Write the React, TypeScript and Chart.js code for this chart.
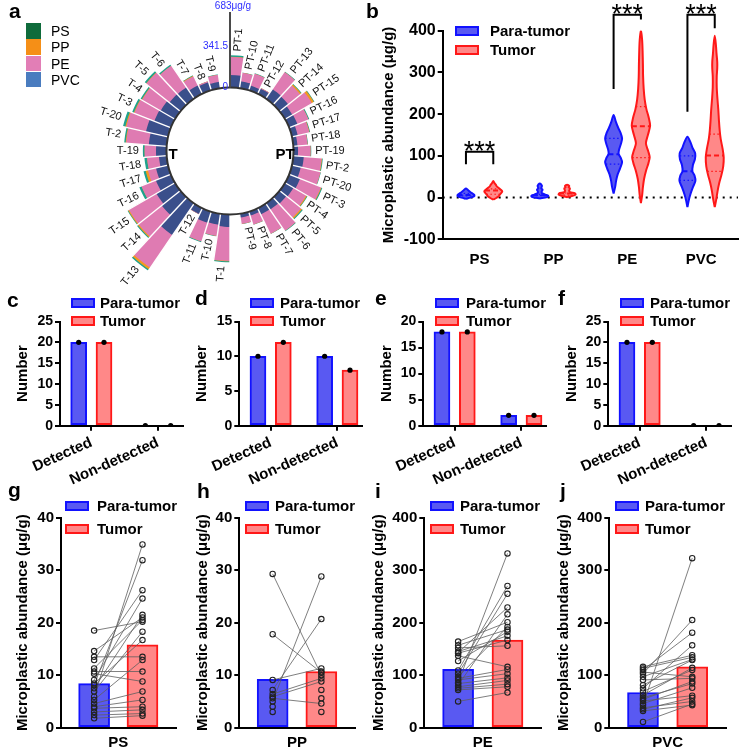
import React, { useEffect, useRef } from 'react';
import { Chart, registerables } from 'chart.js';

Chart.register(...registerables);

const FONT = '"Liberation Sans", Arial, Helvetica, sans-serif';

const PARA_FILL = '#5959f2';
const PARA_STROKE = '#1212ff';
const TUMOR_FILL = '#ff8888';
const TUMOR_STROKE = '#ff1818';

const PVC_BAR = '#3a4f8b';
const PE_BAR = '#df7bb2';
const PP_BAR = '#f39a1f';
const PS_BAR = '#1ea28d';
const KEY_COLORS = ['#0f6b3b', '#f58f17', '#e27eb6', '#4a7cbf'];

// ---------------- Panel a data ----------------
const ptLabels = ['PT-1', 'PT-10', 'PT-11', 'PT-12', 'PT-13', 'PT-14', 'PT-15', 'PT-16', 'PT-17', 'PT-18', 'PT-19', 'PT-2', 'PT-20', 'PT-3', 'PT-4', 'PT-5', 'PT-6', 'PT-7', 'PT-8', 'PT-9'];
const tLabels = ['T-1', 'T-10', 'T-11', 'T-12', 'T-13', 'T-14', 'T-15', 'T-16', 'T-17', 'T-18', 'T-19', 'T-2', 'T-20', 'T-3', 'T-4', 'T-5', 'T-6', 'T-7', 'T-8', 'T-9'];
const ptPVC = [105, 59, 42, 50, 97, 93, 72, 76, 50, 35, 38, 88, 76, 99, 82, 73, 64, 59, 34, 32];
const ptPE = [150, 72, 105, 5, 175, 130, 190, 100, 100, 85, 105, 150, 170, 190, 125, 160, 215, 180, 80, 55];
const ptPP = [3, 0, 0, 0, 0, 12, 20, 0, 3, 0, 0, 4, 0, 5, 8, 12, 0, 0, 0, 0];
const ptPS = [12, 3, 5, 0, 5, 5, 5, 8, 5, 4, 6, 6, 4, 8, 5, 8, 6, 3, 3, 2];
const tPVC = [104, 93, 97, 55, 322, 200, 180, 136, 104, 65, 88, 150, 190, 150, 140, 118, 115, 80, 70, 55];
const tPE = [285, 95, 165, 3, 331, 250, 268, 130, 70, 100, 95, 190, 170, 180, 180, 250, 220, 85, 10, 60];
const tPP = [3, 0, 0, 0, 18, 10, 8, 0, 20, 0, 0, 5, 8, 5, 4, 3, 0, 5, 0, 0];
const tPS = [8, 3, 8, 0, 12, 8, 6, 20, 18, 22, 15, 12, 20, 15, 12, 15, 12, 5, 0, 3];
const circleAxisTicks = [0, 341.5, 683];
const polymerNames = ['PS', 'PP', 'PE', 'PVC'];

// ---------------- Panel b data ----------------
const violinCategories = ['PS', 'PP', 'PE', 'PVC'];
const psParaLevels = [-3, 0, 3, 6, 9, 12, 15, 18, 22];
const psParaDensity = [0, 0.45, 0.8, 0.85, 0.7, 0.5, 0.35, 0.2, 0];
const psTumorLevels = [-5, -1, 3, 7, 11, 15, 19, 23, 27, 31, 35, 40];
const psTumorDensity = [0, 0.3, 0.55, 0.65, 0.8, 0.9, 0.75, 0.55, 0.35, 0.25, 0.12, 0];
const ppParaLevels = [-2, 1, 4, 7, 10, 13, 16, 19, 22, 25, 28, 31, 34];
const ppParaDensity = [0, 0.75, 0.85, 0.55, 0.25, 0.18, 0.22, 0.28, 0.15, 0.18, 0.22, 0.15, 0];
const ppTumorLevels = [1, 4, 7, 10, 13, 16, 19, 22, 25, 28, 31];
const ppTumorDensity = [0, 0.55, 0.85, 0.8, 0.3, 0.2, 0.25, 0.28, 0.15, 0.22, 0];
const peParaLevels = [10, 25, 40, 55, 70, 85, 95, 105, 115, 130, 142, 155, 168, 182, 198];
const peParaDensity = [0, 0.15, 0.25, 0.4, 0.65, 0.85, 0.72, 0.5, 0.55, 0.75, 0.85, 0.7, 0.45, 0.22, 0];
const peTumorLevels = [-13, 5, 25, 45, 65, 82, 97, 112, 130, 150, 172, 192, 212, 235, 260, 290, 320, 350, 378, 402];
const peTumorDensity = [0, 0.12, 0.2, 0.32, 0.52, 0.75, 0.88, 0.72, 0.5, 0.7, 0.92, 0.78, 0.55, 0.38, 0.28, 0.22, 0.2, 0.17, 0.12, 0];
const pvcParaLevels = [-23, -8, 8, 25, 40, 52, 63, 78, 92, 106, 120, 133, 146];
const pvcParaDensity = [0, 0.12, 0.3, 0.55, 0.8, 0.72, 0.5, 0.55, 0.75, 0.78, 0.5, 0.3, 0];
const pvcTumorLevels = [-23, -5, 15, 35, 55, 75, 96, 118, 140, 160, 185, 210, 240, 265, 290, 310, 325, 345, 365, 388];
const pvcTumorDensity = [0, 0.15, 0.28, 0.45, 0.68, 0.85, 0.9, 0.78, 0.6, 0.5, 0.42, 0.36, 0.26, 0.2, 0.2, 0.25, 0.25, 0.18, 0.12, 0];
const paraMedians = [6, 5.6, 104, 63];
const paraQ1 = [4, 4.5, 80, 41];
const paraQ3 = [10, 7.5, 142, 100];
const tumorMedians = [17, 9.7, 171, 101];
const tumorQ1 = [8, 6, 96, 63];
const tumorQ3 = [21, 11, 218, 152];
const sigCategoryIndex = [0, 2, 3];
const sigBarTop = [110, 438, 438];
const sigParaEnd = [80, 260, 206];
const sigTumorEnd = [80, 427, 406];
const sigText = ['***', '***', '***'];

// ---------------- Panels c-f data ----------------
const detectionCategories = ['Detected', 'Non-detected'];
const psDetectPara = [20, 0];
const psDetectTumor = [20, 0];
const ppDetectPara = [10, 10];
const ppDetectTumor = [12, 8];
const peDetectPara = [18, 2];
const peDetectTumor = [18, 2];
const pvcDetectPara = [20, 0];
const pvcDetectTumor = [20, 0];

// ---------------- Panels g-j data ----------------
const psAbundPara = [18.5, 14.6, 13.5, 12.9, 11.3, 10.7, 10.3, 9.1, 8.4, 8.1, 7.5, 6.9, 5.9, 5.3, 4.6, 4.0, 3.7, 3.0, 2.4, 1.8];
const psAbundTumor = [20.2, 21.0, 13.5, 26.2, 20.5, 10.7, 8.8, 24.6, 16.7, 31.9, 21.5, 18.3, 34.9, 12.9, 6.9, 5.3, 4.0, 3.4, 2.7, 2.3];
const psAbundMean = [8.4, 15.8];
const ppAbundPara = [29.3, 17.8, 9.1, 7.2, 6.4, 5.9, 5.6, 5.0, 4.0, 3.0, null, null, null, null];
const ppAbundTumor = [10.0, 10.5, 11.3, 20.7, 9.4, 8.8, 4.6, 28.8, null, null, 10.7, 7.2, 5.6, 3.0];
const ppAbundMean = [9.2, 10.7];
const peAbundPara = [164, 157, 152, 145, 143, 142, 137, 127, 109, 103, 97, 94, 91, 86, 84, 81, 78, 75, 72, 50];
const peAbundTumor = [201, 187, 156, 175, 229, 167, 116, 183, 270, 255, 192, 111, 103, 332, 95, 216, 90, 83, 78, 67];
const peAbundMean = [111, 167];
const pvcAbundPara = [116, 113, 110, 106, 103, 97, 91, 81, 75, 69, 62, 57, 54, 51, 46, 43, 38, 35, 32, 11];
const pvcAbundTumor = [138, 134, 181, 97, 205, 130, 94, 129, 157, 110, 114, 84, 88, 61, 76, 323, 50, 57, 43, 45];
const pvcAbundMean = [67, 116];

// ---------------- helpers ----------------
const VIOLIN_OFFSET = 0.185;
const VIOLIN_HALF = 0.135;
const COUNT_OFFSET = 0.19;
const PAIR_OFFSET = 0.211;
const INNER_FRACTION = 0.438;

function widthAt(levels: number[], dens: number[], v: number) {
  for (let i = 0; i < levels.length - 1; i++) {
    if (v >= levels[i] && v <= levels[i + 1]) {
      const t = (v - levels[i]) / (levels[i + 1] - levels[i]);
      return dens[i] + t * (dens[i + 1] - dens[i]);
    }
  }
  return 0;
}

function violinOutline(cx: number, levels: number[], dens: number[], half: number) {
  const right = levels.map((v, i) => ({ x: cx + dens[i] * half, y: v }));
  const left = levels.map((v, i) => ({ x: cx - dens[i] * half, y: v })).reverse();
  return right.concat(left.slice(1));
}

function yAxis(o: { min: number; max: number; step: number; width: number; title: string; titlePad: number; tickSize: number; titleSize?: number; tickLen?: number }) {
  return {
    type: 'linear',
    position: 'left',
    min: o.min,
    max: o.max,
    offset: false,
    ticks: { stepSize: o.step, color: '#000', padding: 2, font: { family: FONT, size: o.tickSize, weight: 'bold' } },
    grid: { display: true, offset: false, drawOnChartArea: false, drawTicks: true, tickLength: o.tickLen ?? 5, color: '#000', lineWidth: 2 },
    border: { display: true, color: '#000', width: 2 },
    title: {
      display: true,
      text: o.title,
      color: '#000',
      padding: { top: o.titlePad, bottom: 0 },
      font: { family: FONT, size: o.titleSize ?? 15, weight: 'bold' },
    },
    afterFit: (s: any) => {
      s.width = o.width;
      s.paddingTop = 0;
      s.paddingBottom = 0;
    },
  };
}

function xAxis(o: { min: number; max: number; ticks: number[]; labels: string[]; height: number; size: number; rotation?: number; drawTicks?: boolean; padding: number }) {
  return {
    type: 'linear',
    position: 'bottom',
    min: o.min,
    max: o.max,
    offset: false,
    afterBuildTicks: (s: any) => {
      s.ticks = o.ticks.map((v) => ({ value: v }));
    },
    ticks: {
      autoSkip: false,
      maxRotation: o.rotation ?? 0,
      minRotation: o.rotation ?? 0,
      padding: o.padding,
      color: '#000',
      font: { family: FONT, size: o.size, weight: 'bold' },
      callback: (_v: any, i: number) => o.labels[i],
    },
    grid: { display: true, offset: false, drawOnChartArea: false, drawTicks: !!o.drawTicks, tickLength: 5, color: '#000', lineWidth: 2 },
    border: { display: true, color: '#000', width: 2 },
    afterFit: (s: any) => {
      s.height = o.height;
      s.paddingLeft = 0;
      s.paddingRight = 0;
    },
  };
}

function baseOptions(padding: any, scales: any) {
  return {
    responsive: false,
    maintainAspectRatio: false,
    animation: false,
    events: [],
    layout: { padding, autoPadding: false },
    plugins: { legend: { display: false }, tooltip: { enabled: false }, title: { display: false } },
    scales,
  };
}

// ---------------- plugins ----------------
const circlePlugin = {
  id: 'circleDecor',
  afterDatasetsDraw(chart: any) {
    const sc = chart.scales.r;
    const ctx = chart.ctx;
    const cx = sc.xCenter;
    const cy = sc.yCenter;
    const r0 = sc.getDistanceFromCenterForValue(0);
    const top = circleAxisTicks[circleAxisTicks.length - 1];
    const rMax = sc.getDistanceFromCenterForValue(top);
    const outerMeta = chart.getDatasetMeta(chart.data.datasets.length - 1);
    const labels = chart.data.labels;
    ctx.save();
    ctx.strokeStyle = '#ffffff';
    ctx.lineWidth = 1.4;
    outerMeta.data.forEach((arc: any) => {
      const a = arc.startAngle;
      ctx.beginPath();
      ctx.moveTo(cx + Math.cos(a) * (r0 - 1), cy + Math.sin(a) * (r0 - 1));
      ctx.lineTo(cx + Math.cos(a) * (rMax + 3), cy + Math.sin(a) * (rMax + 3));
      ctx.stroke();
    });
    ctx.beginPath();
    ctx.arc(cx, cy, r0, 0, Math.PI * 2);
    ctx.fillStyle = '#ffffff';
    ctx.fill();
    ctx.lineWidth = 2;
    ctx.strokeStyle = '#333333';
    ctx.stroke();

    ctx.font = `11px ${FONT}`;
    ctx.fillStyle = '#111111';
    ctx.textBaseline = 'middle';
    outerMeta.data.forEach((arc: any, i: number) => {
      const lab = labels[i];
      if (!lab) return;
      const mid = (arc.startAngle + arc.endAngle) / 2;
      const rr = arc.outerRadius + 4;
      const theta = mid + Math.PI / 2;
      ctx.save();
      ctx.translate(cx, cy);
      if (theta <= Math.PI) {
        ctx.rotate(mid);
        ctx.textAlign = 'left';
        ctx.fillText(lab, rr, 0);
      } else {
        ctx.rotate(mid + Math.PI);
        ctx.textAlign = 'right';
        ctx.fillText(lab, -rr, 0);
      }
      ctx.restore();
    });

    ctx.font = `bold 15px ${FONT}`;
    ctx.fillStyle = '#000';
    ctx.textAlign = 'center';
    ctx.fillText('T', cx - 57, cy + 4);
    ctx.fillText('PT', cx + 55, cy + 4);

    ctx.strokeStyle = '#4a4a4a';
    ctx.lineWidth = 2;
    ctx.beginPath();
    ctx.moveTo(cx, cy - r0);
    ctx.lineTo(cx, cy - rMax + 6);
    ctx.stroke();
    ctx.fillStyle = '#2f2fff';
    ctx.font = `10px ${FONT}`;
    circleAxisTicks.forEach((v, k) => {
      const y = cy - sc.getDistanceFromCenterForValue(v);
      if (k === circleAxisTicks.length - 1) {
        ctx.textAlign = 'center';
        ctx.fillText(`${v}μg/g`, cx + 3, y);
      } else {
        ctx.textAlign = 'right';
        ctx.fillText(String(v), cx - 2, y);
      }
    });
    ctx.restore();
  },
};

const violinFillPlugin = {
  id: 'violinFill',
  beforeDatasetDraw(chart: any, args: any) {
    const ds = chart.data.datasets[args.index];
    if (!ds || !ds.violinFill) return;
    const meta = args.meta;
    const line = meta.dataset;
    const ctx = chart.ctx;
    ctx.save();
    ctx.beginPath();
    let done = false;
    if (line && typeof line.path === 'function') {
      try {
        if (typeof line.updateControlPoints === 'function') line.updateControlPoints(chart.chartArea, 'x');
        line.path(ctx);
        done = true;
      } catch (e) {
        done = false;
      }
    }
    if (!done) {
      ctx.beginPath();
      meta.data.forEach((p: any, i: number) => (i ? ctx.lineTo(p.x, p.y) : ctx.moveTo(p.x, p.y)));
    }
    ctx.closePath();
    ctx.fillStyle = ds.violinFill;
    ctx.fill();
    ctx.restore();
  },
};

const starsPlugin = {
  id: 'sigStars',
  afterDatasetsDraw(chart: any) {
    const ctx = chart.ctx;
    const xs = chart.scales.x;
    const ys = chart.scales.y;
    ctx.save();
    ctx.font = `27px ${FONT}`;
    ctx.fillStyle = '#000';
    ctx.textAlign = 'center';
    ctx.textBaseline = 'alphabetic';
    sigCategoryIndex.forEach((c, k) => {
      ctx.fillText(sigText[k], xs.getPixelForValue(c + 0.5), ys.getPixelForValue(sigBarTop[k]) + 8);
    });
    ctx.restore();
  },
};

// ---------------- chart makers ----------------
function makePanelA() {
  const labels = [...ptLabels, '', ...tLabels, ''];
  const pvc = [...ptPVC, 0, ...tPVC, 0];
  const pe = [...ptPE, 0, ...tPE, 0];
  const pp = [...ptPP, 0, ...tPP, 0];
  const ps = [...ptPS, 0, ...tPS, 0];
  const layer2 = pvc.map((v, i) => v + pe[i]);
  const layer3 = layer2.map((v, i) => v + pp[i]);
  const layer4 = layer3.map((v, i) => v + ps[i]);
  const colors = (c: string) => labels.map((l) => (l ? c : 'rgba(0,0,0,0)'));
  const max = circleAxisTicks[circleAxisTicks.length - 1];
  const min = (-INNER_FRACTION * max) / (1 - INNER_FRACTION);
  return {
    type: 'polarArea',
    data: {
      labels,
      datasets: [
        { label: polymerNames[3], data: pvc, backgroundColor: colors(PVC_BAR), borderWidth: 0 },
        { label: polymerNames[2], data: layer2, backgroundColor: colors(PE_BAR), borderWidth: 0 },
        { label: polymerNames[1], data: layer3, backgroundColor: colors(PP_BAR), borderWidth: 0 },
        { label: polymerNames[0], data: layer4, backgroundColor: colors(PS_BAR), borderWidth: 0 },
      ],
    },
    options: {
      responsive: false,
      animation: false,
      events: [],
      layout: { padding: { left: 85, right: 65, top: 6, bottom: 14 } },
      scales: { r: { min, max, display: false } },
      plugins: { legend: { display: false }, tooltip: { enabled: false } },
    },
    plugins: [circlePlugin],
  };
}

function makePanelB() {
  const n = violinCategories.length;
  const datasets: any[] = [];
  datasets.push({ type: 'line', data: [{ x: 0, y: 0 }, { x: n, y: 0 }], borderColor: '#000', borderWidth: 2, borderDash: [2, 5], pointRadius: 0, order: 10 });
  const groups = [
    { side: -1, stroke: PARA_STROKE, fill: PARA_FILL, levels: [psParaLevels, ppParaLevels, peParaLevels, pvcParaLevels], dens: [psParaDensity, ppParaDensity, peParaDensity, pvcParaDensity], med: paraMedians, q1: paraQ1, q3: paraQ3 },
    { side: 1, stroke: TUMOR_STROKE, fill: TUMOR_FILL, levels: [psTumorLevels, ppTumorLevels, peTumorLevels, pvcTumorLevels], dens: [psTumorDensity, ppTumorDensity, peTumorDensity, pvcTumorDensity], med: tumorMedians, q1: tumorQ1, q3: tumorQ3 },
  ];
  groups.forEach((g) => {
    for (let c = 0; c < n; c++) {
      const cx = c + 0.5 + g.side * VIOLIN_OFFSET;
      datasets.push({
        type: 'line',
        data: violinOutline(cx, g.levels[c], g.dens[c], VIOLIN_HALF),
        borderColor: g.stroke,
        borderWidth: 2,
        pointRadius: 0,
        tension: 0.3,
        fill: false,
        violinFill: g.fill,
        order: 5,
      });
      const stats = [
        { v: g.q1[c], dash: [1.5, 2.5], w: 1.2 },
        { v: g.med[c], dash: [5, 3], w: 2 },
        { v: g.q3[c], dash: [1.5, 2.5], w: 1.2 },
      ];
      stats.forEach((s) => {
        const hw = widthAt(g.levels[c], g.dens[c], s.v) * VIOLIN_HALF;
        datasets.push({ type: 'line', data: [{ x: cx - hw, y: s.v }, { x: cx + hw, y: s.v }], borderColor: g.stroke, borderWidth: s.w, borderDash: s.dash, pointRadius: 0, order: 4 });
      });
    }
  });
  sigCategoryIndex.forEach((c, k) => {
    const xa = c + 0.5 - VIOLIN_OFFSET;
    const xb = c + 0.5 + VIOLIN_OFFSET;
    datasets.push({
      type: 'line',
      data: [{ x: xa, y: sigParaEnd[k] }, { x: xa, y: sigBarTop[k] }, { x: xb, y: sigBarTop[k] }, { x: xb, y: sigTumorEnd[k] }],
      borderColor: '#000',
      borderWidth: 2,
      pointRadius: 0,
      clip: false,
      order: 1,
    });
  });
  return {
    type: 'scatter',
    data: { datasets },
    options: baseOptions(
      { left: 0, right: 2, top: 30.7, bottom: 0 },
      {
        x: xAxis({ min: 0, max: n, ticks: violinCategories.map((_, i) => i + 0.5), labels: violinCategories, height: 42.7, size: 15, padding: 12 }),
        y: yAxis({ min: -100, max: 400, step: 100, width: 72.7, title: 'Microplastic abundance (μg/g)', titlePad: 10, tickSize: 16 }),
      }
    ),
    plugins: [violinFillPlugin, starsPlugin],
  };
}

function makeCount(para: number[], tumor: number[], yMax: number, yWidth: number, titlePad: number, padRight: number) {
  return () => {
    const barBase = { type: 'bar', borderWidth: 2, borderSkipped: false, grouped: false, barThickness: 16, maxBarThickness: 16, categoryPercentage: 1, barPercentage: 2, order: 2 };
    const dots = [
      ...para.map((v, i) => ({ x: i + 0.5 - COUNT_OFFSET, y: v })),
      ...tumor.map((v, i) => ({ x: i + 0.5 + COUNT_OFFSET, y: v })),
    ];
    return {
      type: 'scatter',
      data: {
        datasets: [
          { ...barBase, data: para.map((v, i) => ({ x: i + 0.5 - COUNT_OFFSET, y: v })), backgroundColor: PARA_FILL, borderColor: PARA_STROKE },
          { ...barBase, data: tumor.map((v, i) => ({ x: i + 0.5 + COUNT_OFFSET, y: v })), backgroundColor: TUMOR_FILL, borderColor: TUMOR_STROKE },
          { type: 'scatter', data: dots, pointRadius: 2.6, pointBackgroundColor: '#000', pointBorderColor: '#000', pointBorderWidth: 0, order: 1 },
        ],
      },
      options: baseOptions(
        { left: 0, right: padRight, top: 31.5, bottom: 0 },
        {
          x: xAxis({ min: 0.03, max: 1.87, ticks: [0.5, 1.5], labels: detectionCategories, height: 64.3, size: 15, rotation: 24, drawTicks: true, padding: 3 }),
          y: yAxis({ min: 0, max: yMax, step: 5, width: yWidth, title: 'Number', titlePad, tickSize: 14 }),
        }
      ),
    };
  };
}

function makeAbundance(o: { para: (number | null)[]; tumor: (number | null)[]; means: number[]; label: string; max: number; step: number; yWidth: number; titlePad: number; padRight: number; tickSize: number }) {
  return () => {
    const xa = 0.5 - PAIR_OFFSET;
    const xb = 0.5 + PAIR_OFFSET;
    const barBase = { type: 'bar', borderWidth: 2, borderSkipped: false, grouped: false, barThickness: 31, maxBarThickness: 31, categoryPercentage: 1, barPercentage: 2, order: 3 };
    const datasets: any[] = [
      { ...barBase, data: [{ x: xa, y: o.means[0] }], backgroundColor: PARA_FILL, borderColor: PARA_STROKE },
      { ...barBase, data: [{ x: xb, y: o.means[1] }], backgroundColor: TUMOR_FILL, borderColor: TUMOR_STROKE },
    ];
    o.para.forEach((p, i) => {
      const t = o.tumor[i];
      if (p != null && t != null) {
        datasets.push({ type: 'line', data: [{ x: xa, y: p }, { x: xb, y: t }], borderColor: '#5e5e5e', borderWidth: 0.8, pointRadius: 0, order: 2 });
      }
    });
    const pointStyle = { type: 'scatter', pointRadius: 2.7, pointBorderWidth: 1.1, pointBorderColor: '#222', pointBackgroundColor: 'rgba(0,0,0,0)', order: 1 };
    datasets.push({ ...pointStyle, data: o.para.filter((v) => v != null).map((v) => ({ x: xa, y: v })) });
    datasets.push({ ...pointStyle, data: o.tumor.filter((v) => v != null).map((v) => ({ x: xb, y: v })) });
    return {
      type: 'scatter',
      data: { datasets },
      options: baseOptions(
        { left: 0, right: o.padRight, top: 27.7, bottom: 0 },
        {
          x: xAxis({ min: 0, max: 1, ticks: [0.5], labels: [o.label], height: 23.3, size: 15, padding: 6 }),
          y: yAxis({ min: 0, max: o.max, step: o.step, width: o.yWidth, title: 'Microplastic abundance (μg/g)', titlePad: o.titlePad, tickSize: o.tickSize }),
        }
      ),
    };
  };
}

const panelA = makePanelA;
const panelB = makePanelB;
const panelC = makeCount(psDetectPara, psDetectTumor, 25, 60, 14, 2.3);
const panelD = makeCount(ppDetectPara, ppDetectTumor, 15, 54.3, 8, 6);
const panelE = makeCount(peDetectPara, peDetectTumor, 20, 55.3, 10, 6);
const panelF = makeCount(pvcDetectPara, pvcDetectTumor, 25, 56.3, 11, 9);
const panelG = makeAbundance({ para: psAbundPara, tumor: psAbundTumor, means: psAbundMean, label: 'PS', max: 40, step: 10, yWidth: 61, titlePad: 14, padRight: 6.4, tickSize: 15 });
const panelH = makeAbundance({ para: ppAbundPara, tumor: ppAbundTumor, means: ppAbundMean, label: 'PP', max: 40, step: 10, yWidth: 57.3, titlePad: 11.5, padRight: 12.3, tickSize: 15 });
const panelI = makeAbundance({ para: peAbundPara, tumor: peAbundTumor, means: peAbundMean, label: 'PE', max: 400, step: 100, yWidth: 57.3, titlePad: 3, padRight: 10.7, tickSize: 15 });
const panelJ = makeAbundance({ para: pvcAbundPara, tumor: pvcAbundTumor, means: pvcAbundMean, label: 'PVC', max: 400, step: 100, yWidth: 57.3, titlePad: 3, padRight: 14.1, tickSize: 15 });

// ---------------- components ----------------
function ChartCanvas({ left, top, width, height, make }: { left: number; top: number; width: number; height: number; make: () => any }) {
  const ref = useRef<HTMLCanvasElement | null>(null);
  useEffect(() => {
    if (!ref.current) return;
    const chart = new Chart(ref.current, make());
    return () => chart.destroy();
  }, [make]);
  return <canvas ref={ref} width={width} height={height} style={{ position: 'absolute', left, top, width, height }} />;
}

function GroupLegend({ boxX, textX, y1, y2 }: { boxX: number; textX: number; y1: number; y2: number }) {
  const boxW = 24;
  const boxH = 10;
  const textStyle: any = { position: 'absolute', left: textX, font: `bold 15px ${FONT}`, lineHeight: '15px', whiteSpace: 'nowrap', color: '#000' };
  return (
    <>
      <div style={{ position: 'absolute', left: boxX, top: y1 - boxH / 2, width: boxW, height: boxH, boxSizing: 'border-box', border: `2px solid ${PARA_STROKE}`, background: PARA_FILL }} />
      <div style={{ ...textStyle, top: y1 - 8 }}>Para-tumor</div>
      <div style={{ position: 'absolute', left: boxX, top: y2 - boxH / 2, width: boxW, height: boxH, boxSizing: 'border-box', border: `2px solid ${TUMOR_STROKE}`, background: TUMOR_FILL }} />
      <div style={{ ...textStyle, top: y2 - 8 }}>Tumor</div>
    </>
  );
}

function Letter({ ch, x, baseline }: { ch: string; x: number; baseline: number }) {
  return (
    <div style={{ position: 'absolute', left: x, top: baseline - 18, font: `bold 21px ${FONT}`, lineHeight: '21px', color: '#000' }}>{ch}</div>
  );
}

export default function App() {
  return (
    <div style={{ position: 'absolute', left: 0, top: 0, width: 740, height: 751, background: '#fff', overflow: 'hidden', fontFamily: FONT }}>
      <ChartCanvas left={0} top={0} width={440} height={310} make={panelA} />
      <ChartCanvas left={370} top={0} width={370} height={282} make={panelB} />
      <ChartCanvas left={0} top={290} width={185} height={200} make={panelC} />
      <ChartCanvas left={185} top={290} width={183} height={200} make={panelD} />
      <ChartCanvas left={368} top={290} width={184} height={200} make={panelE} />
      <ChartCanvas left={552} top={290} width={188} height={200} make={panelF} />
      <ChartCanvas left={0} top={490} width={182} height={261} make={panelG} />
      <ChartCanvas left={182} top={490} width={185} height={261} make={panelH} />
      <ChartCanvas left={367} top={490} width={185} height={261} make={panelI} />
      <ChartCanvas left={552} top={490} width={188} height={261} make={panelJ} />

      {polymerNames.map((name, k) => (
        <React.Fragment key={name}>
          <div style={{ position: 'absolute', left: 26, top: 23 + k * 16.3, width: 15, height: 15.5, background: KEY_COLORS[k] }} />
          <div style={{ position: 'absolute', left: 51, top: 23 + k * 16.3, font: `14px ${FONT}`, lineHeight: '16px', color: '#000' }}>{name}</div>
        </React.Fragment>
      ))}

      <GroupLegend boxX={455} textX={490} y1={31} y2={50} />
      <GroupLegend boxX={71} textX={100} y1={303} y2={320.5} />
      <GroupLegend boxX={250} textX={280} y1={303} y2={320.5} />
      <GroupLegend boxX={435} textX={466} y1={303} y2={320.5} />
      <GroupLegend boxX={620} textX={650} y1={303} y2={320.5} />
      <GroupLegend boxX={65} textX={97} y1={506} y2={529} />
      <GroupLegend boxX={245} textX={275} y1={506} y2={529} />
      <GroupLegend boxX={430} textX={460} y1={506} y2={529} />
      <GroupLegend boxX={615} textX={645} y1={506} y2={529} />

      <Letter ch="a" x={9} baseline={18} />
      <Letter ch="b" x={366} baseline={18} />
      <Letter ch="c" x={7} baseline={307} />
      <Letter ch="d" x={195} baseline={305} />
      <Letter ch="e" x={375} baseline={305} />
      <Letter ch="f" x={558} baseline={305} />
      <Letter ch="g" x={8} baseline={497} />
      <Letter ch="h" x={197} baseline={498} />
      <Letter ch="i" x={375} baseline={498} />
      <Letter ch="j" x={560} baseline={498} />
    </div>
  );
}
